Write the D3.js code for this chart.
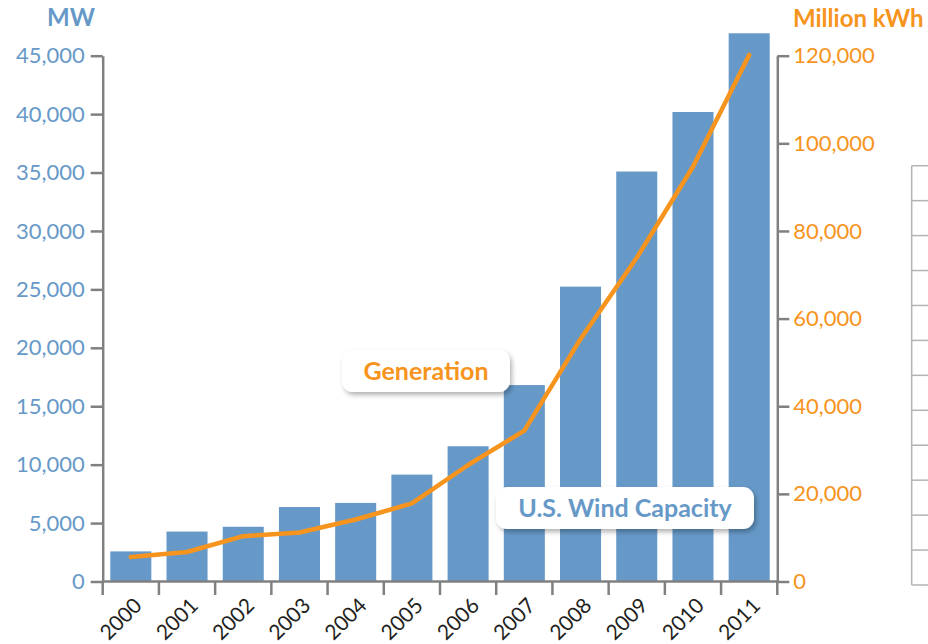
<!DOCTYPE html>
<html>
<head>
<meta charset="utf-8">
<title>U.S. Wind Capacity and Generation</title>
<script src="https://cdn.jsdelivr.net/npm/d3@7"></script>
<style>
  body { margin: 0; background: #fff; }
  text { font-family: Lato, "Open Sans", sans-serif; }
</style>
</head>
<body>
<script>
// data
var years = ["2000", "2001", "2002", "2003", "2004", "2005", "2006", "2007", "2008", "2009", "2010", "2011"];
var capacityMW = [2578, 4275, 4685, 6372, 6725, 9149, 11575, 16812, 25237, 35086, 40180, 46919];
var generationMkWh = [5593, 6737, 10354, 11187, 14144, 17811, 26589, 34450, 55363, 73886, 94652, 120177];
var leftTicks = [0, 5000, 10000, 15000, 20000, 25000, 30000, 35000, 40000, 45000];
var rightTicks = [0, 20000, 40000, 60000, 80000, 100000, 120000];

var width = 928, height = 644;
var blue = '#6699c8', orange = '#f7941e', axisGrey = '#808080';
var plotLeft = 102.7, plotRight = 777.3, plotTop = 55.7, plotBottom = 581.5;

var svg = d3.select('body').append('svg')
    .attr('width', width)
    .attr('height', height);

// drop shadow for the callout boxes
var defs = svg.append('defs');
defs.append('filter').attr('id', 'shadow')
    .attr('x', '-20%').attr('y', '-30%').attr('width', '140%').attr('height', '170%')
    .append('feDropShadow')
    .attr('dx', 2).attr('dy', 3).attr('stdDeviation', 2.5)
    .attr('flood-color', '#000').attr('flood-opacity', 0.3);

var x = d3.scaleBand()
    .domain(years)
    .range([plotLeft, plotRight])
    .paddingInner(0.27)
    .paddingOuter(0.135);

var yLeft = d3.scaleLinear().domain([0, 45000]).range([plotBottom, plotTop]);
var yRight = d3.scaleLinear().domain([0, 120000]).range([plotBottom, plotTop]);

// truncated table at the right edge (cut off by the crop)
var table = svg.append('g').attr('class', 'table').attr('stroke', '#b3b3b3').attr('stroke-width', 1.5);
var rowH = (585 - 165.7) / 12;
table.append('line').attr('x1', 911.7).attr('x2', 911.7).attr('y1', 165.7).attr('y2', 585);
d3.range(13).forEach(function(i) {
    table.append('line')
        .attr('x1', 911.7).attr('x2', width)
        .attr('y1', 165.7 + i * rowH).attr('y2', 165.7 + i * rowH);
});

// bars
svg.append('g').attr('class', 'bars')
    .selectAll('rect')
    .data(years)
    .enter().append('rect')
    .attr('x', function(d) { return x(d); })
    .attr('width', x.bandwidth())
    .attr('y', function(d, i) { return yLeft(capacityMW[i]); })
    .attr('height', function(d, i) { return plotBottom - yLeft(capacityMW[i]); })
    .attr('fill', blue);

// generation line
var line = d3.line()
    .x(function(d, i) { return x(years[i]) + x.bandwidth() / 2; })
    .y(function(d) { return yRight(d); });

svg.append('path')
    .datum(generationMkWh)
    .attr('d', line)
    .attr('fill', 'none')
    .attr('stroke', orange)
    .attr('stroke-width', 4.5)
    .attr('stroke-linejoin', 'round')
    .attr('stroke-linecap', 'round');

// left axis
var leftAxis = svg.append('g')
    .attr('transform', 'translate(' + plotLeft + ',0)')
    .call(d3.axisLeft(yLeft).tickValues(leftTicks).tickSize(12).tickSizeOuter(0).tickPadding(6)
        .tickFormat(d3.format(',')));
leftAxis.selectAll('text').attr('fill', blue).style('font-size', '22px').style('font-weight', 400);

// right axis
var rightAxis = svg.append('g')
    .attr('transform', 'translate(' + plotRight + ',0)')
    .call(d3.axisRight(yRight).tickValues(rightTicks).tickSize(12).tickSizeOuter(0).tickPadding(4)
        .tickFormat(d3.format(',')));
rightAxis.selectAll('text').attr('fill', orange).style('font-size', '22px').style('font-weight', 400);

// bottom axis: line, ticks at band boundaries, rotated labels
var xAxis = svg.append('g').attr('class', 'x-axis');
xAxis.append('line')
    .attr('x1', plotLeft).attr('x2', plotRight)
    .attr('y1', plotBottom).attr('y2', plotBottom);
xAxis.selectAll('.tick')
    .data(d3.range(years.length + 1))
    .enter().append('line')
    .attr('x1', function(i) { return plotLeft + i * x.step(); })
    .attr('x2', function(i) { return plotLeft + i * x.step(); })
    .attr('y1', plotBottom).attr('y2', plotBottom + 13.5);
xAxis.selectAll('text')
    .data(years)
    .enter().append('text')
    .attr('transform', function(d) {
        return 'translate(' + (x(d) + x.bandwidth() / 2 + 2) + ',' + (plotBottom + 15) + ') rotate(-45)';
    })
    .attr('text-anchor', 'end')
    .attr('dy', '0.7em')
    .attr('fill', '#231f20')
    .style('font-size', '21px')
    .text(function(d) { return d; });

svg.selectAll('.domain, .tick line, .x-axis line')
    .attr('stroke', axisGrey)
    .attr('stroke-width', 2.5);

// axis titles
svg.append('text')
    .attr('x', 47).attr('y', 26)
    .attr('fill', blue)
    .style('font-size', '24px').style('font-weight', 700)
    .text('MW');
svg.append('text')
    .attr('x', 793).attr('y', 27)
    .attr('fill', orange)
    .style('font-size', '24px').style('font-weight', 700)
    .text('Million kWh');

// callouts
function callout(cx, cy, w, h, label, colour) {
    var g = svg.append('g').attr('class', 'callout');
    g.append('rect')
        .attr('x', cx - w / 2).attr('y', cy - h / 2)
        .attr('width', w).attr('height', h)
        .attr('rx', 11).attr('ry', 11)
        .attr('fill', '#fff')
        .attr('filter', 'url(#shadow)');
    g.append('text')
        .attr('x', cx).attr('y', cy)
        .attr('dy', '0.36em')
        .attr('text-anchor', 'middle')
        .attr('fill', colour)
        .style('font-size', '25px').style('font-weight', 700)
        .text(label);
}
callout(426, 371, 168, 42, 'Generation', orange);
callout(625, 508, 258, 42, 'U.S. Wind Capacity', blue);
</script>
</body>
</html>
